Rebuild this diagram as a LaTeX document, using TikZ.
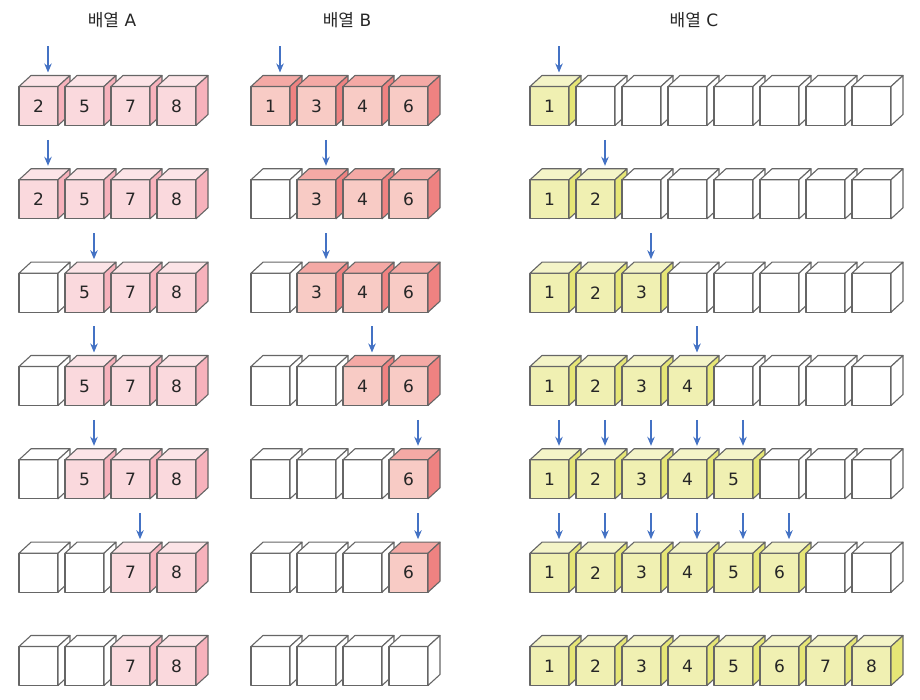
\documentclass[tikz,border=0pt]{standalone}
\usepackage{fontspec}
\setmainfont{DejaVu Sans}
\newfontfamily\kr{Noto Sans CJK KR}
\usetikzlibrary{arrows.meta}

\definecolor{Afront}{HTML}{FAD9DD}
\definecolor{Atop}{HTML}{FCE4E7}
\definecolor{Aside}{HTML}{F7B2BC}
\definecolor{Bfront}{HTML}{F8CBC5}
\definecolor{Btop}{HTML}{F4A9A5}
\definecolor{Bside}{HTML}{EF8281}
\definecolor{Cfront}{HTML}{F0F0B2}
\definecolor{Ctop}{HTML}{F4F4C8}
\definecolor{Cside}{HTML}{E6E676}
\definecolor{Efront}{HTML}{FFFFFF}
\definecolor{Etop}{HTML}{FFFFFF}
\definecolor{Eside}{HTML}{FFFFFF}
\definecolor{edge}{HTML}{666666}
\definecolor{ptrblue}{HTML}{4472C4}

\tikzset{
  face/.style={draw=edge, line width=1.1pt, line join=round},
  front/.style={face, minimum width=39pt, minimum height=39pt, inner sep=0pt,
    outer sep=0pt, font=\fontsize{17}{20}\selectfont, text=black!85},
  title/.style={font=\fontsize{17}{20}\selectfont, text=black!85},
  ptr/.style={-{Stealth[length=9pt,width=7.5pt]}, draw=ptrblue, line width=1.2pt},
}

\newcommand{\cube}[5]{%
  \node[front, fill=#4front] (#1) at (#2,#3) {#5};
  \draw[face, fill=#4top] (#1.north west) -- ++(12,11) -- ++(39,0) -- (#1.north east) -- cycle;
  \draw[face, fill=#4side] (#1.north east) -- ++(12,11) -- ++(0,-39) -- (#1.south east) -- cycle;
}
\newcommand{\cuberow}[5]{%
  \foreach \v [count=\i] in {#5} {
    \ifnum\v=0 \cube{#1-\i}{#2+46*\i-26.5}{#3}{E}{}%
    \else \cube{#1-\i}{#2+46*\i-26.5}{#3}{#4}{\v}\fi
  }}
\newcommand{\pointer}[1]{%
  \coordinate (#1-from) at ([xshift=9.5pt,yshift=40pt]#1.north);
  \coordinate (#1-to) at ([xshift=9.5pt,yshift=14pt]#1.north);
  \draw[ptr] (#1-from) -- (#1-to);
}

\begin{document}
\begin{tikzpicture}[x=1pt,y=1pt]
    \useasboundingbox (0,0) rectangle (920,700);
    \begin{scope}
        \node[title] (titleA) at (112,680) {{\kr 배열} A};
        \cuberow{a1}{19}{594}{A}{2,5,7,8}
        \cuberow{a2}{19}{500.7}{A}{2,5,7,8}
        \cuberow{a3}{19}{407.3}{A}{0,5,7,8}
        \cuberow{a4}{19}{314}{A}{0,5,7,8}
        \cuberow{a5}{19}{220.7}{A}{0,5,7,8}
        \cuberow{a6}{19}{127.3}{A}{0,0,7,8}
        \cuberow{a7}{19}{34}{A}{0,0,7,8}
        \pointer{a1-1}
        \pointer{a2-1}
        \pointer{a3-2}
        \pointer{a4-2}
        \pointer{a5-2}
        \pointer{a6-3}
    \end{scope}
    \begin{scope}
        \node[title] (titleB) at (347,680) {{\kr 배열} B};
        \cuberow{b1}{251}{594}{B}{1,3,4,6}
        \cuberow{b2}{251}{500.7}{B}{0,3,4,6}
        \cuberow{b3}{251}{407.3}{B}{0,3,4,6}
        \cuberow{b4}{251}{314}{B}{0,0,4,6}
        \cuberow{b5}{251}{220.7}{B}{0,0,0,6}
        \cuberow{b6}{251}{127.3}{B}{0,0,0,6}
        \cuberow{b7}{251}{34}{B}{0,0,0,0}
        \pointer{b1-1}
        \pointer{b2-2}
        \pointer{b3-2}
        \pointer{b4-3}
        \pointer{b5-4}
        \pointer{b6-4}
    \end{scope}
    \begin{scope}
        \node[title] (titleC) at (694,680) {{\kr 배열} C};
        \cuberow{c1}{530}{594}{C}{1,0,0,0,0,0,0,0}
        \cuberow{c2}{530}{500.7}{C}{1,2,0,0,0,0,0,0}
        \cuberow{c3}{530}{407.3}{C}{1,2,3,0,0,0,0,0}
        \cuberow{c4}{530}{314}{C}{1,2,3,4,0,0,0,0}
        \cuberow{c5}{530}{220.7}{C}{1,2,3,4,5,0,0,0}
        \cuberow{c6}{530}{127.3}{C}{1,2,3,4,5,6,0,0}
        \cuberow{c7}{530}{34}{C}{1,2,3,4,5,6,7,8}
        \pointer{c1-1}
        \pointer{c2-2}
        \pointer{c3-3}
        \pointer{c4-4}
        \foreach \i in {1,...,5} {\pointer{c5-\i}}
        \foreach \i in {1,...,6} {\pointer{c6-\i}}
    \end{scope}
\end{tikzpicture}
\end{document}
